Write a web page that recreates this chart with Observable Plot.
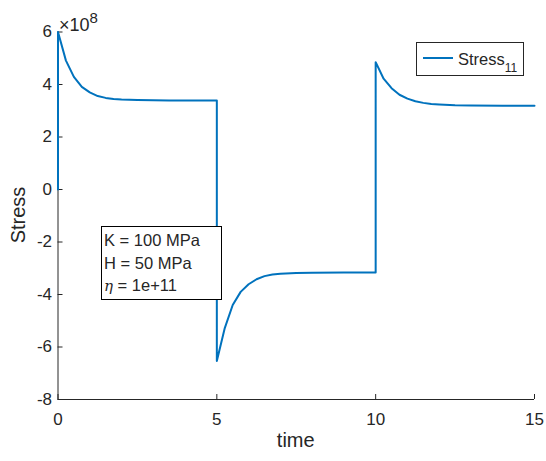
<!DOCTYPE html>
<html><head><meta charset="utf-8">
<script src="https://cdn.jsdelivr.net/npm/d3@7"></script>
<script src="https://cdn.jsdelivr.net/npm/@observablehq/plot@0.6"></script>
<style>
body{margin:0;background:#fff;font-family:"Liberation Sans",Arial,sans-serif;color:#262626}
#wrap{position:relative;width:546px;height:461px}
.ov{position:absolute;white-space:nowrap;line-height:1}
</style></head><body><div id="wrap"></div>
<script>
// time (s) and Stress_11 (in units of 1e8)
const time = [0, 0, 0.25, 0.5, 0.75, 1, 1.25, 1.5, 1.75, 2, 2.5, 3, 3.5, 4, 4.5, 5,
  5, 5.25, 5.5, 5.75, 6, 6.25, 6.5, 6.75, 7, 7.5, 8, 9, 10,
  10, 10.25, 10.5, 10.75, 11, 11.25, 11.5, 11.75, 12, 12.5, 13, 14, 15];
const stress = [0, 6.0, 4.91, 4.29, 3.91, 3.70, 3.56, 3.49, 3.45, 3.43, 3.41, 3.40, 3.39, 3.39, 3.39, 3.39,
  -6.53, -5.28, -4.40, -3.90, -3.61, -3.42, -3.30, -3.24, -3.21, -3.18, -3.17, -3.16, -3.16,
  4.85, 4.22, 3.86, 3.61, 3.46, 3.36, 3.30, 3.26, 3.24, 3.21, 3.20, 3.19, 3.19];
const exponent = 8;
const xTicks = [0, 5, 10, 15];
const yTicks = [-8, -6, -4, -2, 0, 2, 4, 6];
const xLabel = "time";
const yLabel = "Stress";
const legendName = "Stress";
const legendSub = "11";
const notes = ["K = 100 MPa", "H = 50 MPa"];
const etaNote = " = 1e+11";

const data = time.map((t, i) => ({t, s: stress[i]}));
const ink = "#262626";
const blue = "#0072BD";
const W = 546, H = 461, mL = 57.5, mR = 12, mT = 31.5, mB = 62;
const fw = W - mL - mR, fh = H - mT - mB, tl = 5;

const chart = Plot.plot({
  width: W, height: H,
  marginLeft: mL, marginRight: mR, marginTop: mT, marginBottom: mB,
  style: {fontFamily: '"Liberation Sans", Arial, sans-serif', fontSize: "17px", color: ink, background: "white"},
  x: {domain: [0, 15]},
  y: {domain: [-8, 6]},
  marks: [
    Plot.axisX(xTicks, {tickSize: 0, tickPadding: 13, fontSize: 17, label: null, fill: ink, tickFormat: d => String(d)}),
    Plot.axisY(yTicks, {tickSize: 0, tickPadding: 6, fontSize: 17, label: null, fill: ink, tickFormat: d => String(d)}),
    Plot.tickX(xTicks, {x: d => d, insetTop: fh - tl, stroke: ink, strokeWidth: 1}),
    Plot.tickY(yTicks, {y: d => d, insetRight: fw - tl, stroke: ink, strokeWidth: 1}),
    Plot.ruleX([0], {stroke: ink, strokeWidth: 1}),
    Plot.ruleY([-8], {stroke: ink, strokeWidth: 1}),
    Plot.line(data, {x: "t", y: "s", stroke: blue, strokeWidth: 2, curve: "linear"})
  ]
});
const wrap = document.getElementById("wrap");
wrap.appendChild(chart);

function ov(html, css) {
  const d = document.createElement("div");
  d.className = "ov";
  d.innerHTML = html;
  d.style.cssText += css;
  wrap.appendChild(d);
  return d;
}
// exponent
ov(`×10<sup style="font-size:15px;vertical-align:8px">${exponent}</sup>`, "left:59px;top:10px;font-size:18px;");
// axis labels
ov(xLabel, `left:${mL}px;width:${fw}px;top:430px;font-size:20px;text-align:center;`);
ov(yLabel, "left:-12px;top:205px;width:60px;font-size:20px;text-align:center;transform:rotate(-90deg);transform-origin:center;");
// legend
ov(`<div style="display:inline-block;width:30px;height:2px;background:${blue};vertical-align:middle;margin:0 5px 0 0;position:relative;top:-3px"></div>${legendName}<sub style="font-size:12px;vertical-align:-7px;color:#262626">${legendSub}</sub>`,
  "left:416px;top:42px;width:108px;height:34px;box-sizing:border-box;border:1px solid #262626;background:#fff;font-size:16.5px;padding:8px 0 0 6px;");
// annotation box
ov(`${notes[0]}<br>${notes[1]}<br><i style="font-family:'DejaVu Serif',serif;font-size:15px">η</i>${etaNote}`,
  "left:101px;top:226px;width:121px;height:74px;box-sizing:border-box;border:1px solid #000;background:#fff;font-size:16.5px;line-height:22.5px;padding:2px 0 0 2px;");
</script></body></html>
